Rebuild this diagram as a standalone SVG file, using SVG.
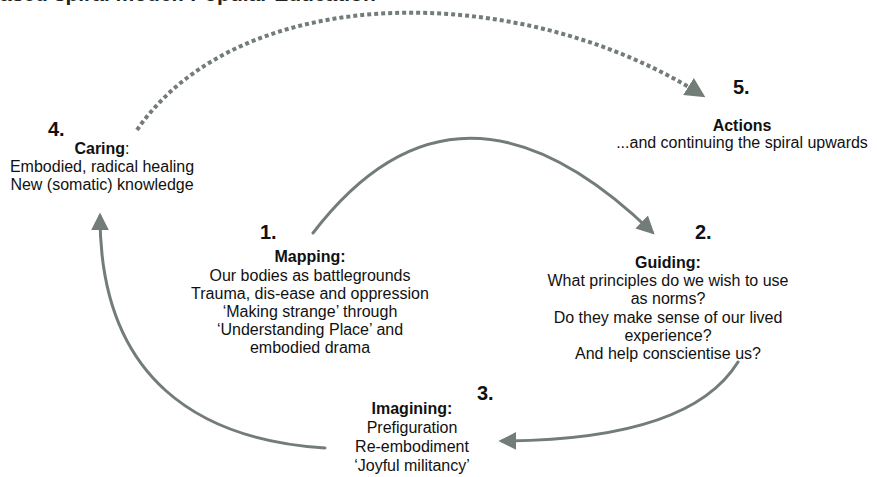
<svg xmlns="http://www.w3.org/2000/svg" width="877" height="477" viewBox="0 0 877 477">
<style>
.t{font-family:"Liberation Sans",Arial,sans-serif;font-size:16px;fill:#111;text-anchor:middle}
.b{font-weight:bold}
.n{font-family:"Liberation Sans",Arial,sans-serif;font-size:20px;font-weight:bold;fill:#111}
.c{fill:none;stroke:#737d77;stroke-width:3;stroke-linecap:round}
.d{fill:none;stroke:#737d77;stroke-width:4;stroke-dasharray:4 3}
</style>
<defs>
<marker id="ah" viewBox="0 0 10 10" refX="8" refY="5" markerWidth="6" markerHeight="6" markerUnits="strokeWidth" orient="auto">
<path d="M0,0 L10,5 L0,10 z" fill="#737d77"/>
</marker>
<marker id="ahd" viewBox="0 0 10 10" refX="8" refY="5" markerWidth="5" markerHeight="5" markerUnits="strokeWidth" orient="auto">
<path d="M0,0 L10,5 L0,10 z" fill="#737d77"/>
</marker>
</defs>
<text x="0" y="1" font-family="Liberation Sans,Arial,sans-serif" font-size="21" font-weight="bold" fill="#222">ased spiral model: Popular Education</text>
<g id="connectors">
<path class="c" d="M313,233 Q458,44 652,232" marker-end="url(#ah)"/>
<path class="c" d="M738,362 Q690,440 502,441" marker-end="url(#ah)"/>
<path class="c" d="M325,448 C200,440 100,380 100,216" marker-end="url(#ah)"/>
<path class="d" d="M137,130 C240,-20 520,-20 702,95" marker-end="url(#ahd)"/>
</g>
<g id="node4">
<text class="n" x="48" y="136">4.</text>
<text class="t" x="102" y="154"><tspan class="b">Caring</tspan>:</text>
<text class="t" x="102" y="172">Embodied, radical healing</text>
<text class="t" x="102" y="190">New (somatic) knowledge</text>
</g>
<g id="node5">
<text class="n" x="733" y="94">5.</text>
<text class="t b" x="742" y="131">Actions</text>
<text class="t" x="742" y="148">...and continuing the spiral upwards</text>
</g>
<g id="node1">
<text class="n" x="260" y="239">1.</text>
<text class="t b" x="310" y="262">Mapping:</text>
<text class="t" x="310" y="281">Our bodies as battlegrounds</text>
<text class="t" x="310" y="299">Trauma, dis-ease and oppression</text>
<text class="t" x="310" y="317">‘Making strange’ through</text>
<text class="t" x="310" y="335">‘Understanding Place’ and</text>
<text class="t" x="310" y="353">embodied drama</text>
</g>
<g id="node2">
<text class="n" x="695" y="239">2.</text>
<text class="t b" x="668" y="268">Guiding:</text>
<text class="t" x="668" y="286">What principles do we wish to use</text>
<text class="t" x="668" y="304">as norms?</text>
<text class="t" x="668" y="323">Do they make sense of our lived</text>
<text class="t" x="668" y="341">experience?</text>
<text class="t" x="668" y="359">And help conscientise us?</text>
</g>
<g id="node3">
<text class="n" x="477" y="400">3.</text>
<text class="t b" x="412" y="414">Imagining:</text>
<text class="t" x="412" y="433">Prefiguration</text>
<text class="t" x="412" y="452">Re-embodiment</text>
<text class="t" x="412" y="471">‘Joyful militancy’</text>
</g>
</svg>
